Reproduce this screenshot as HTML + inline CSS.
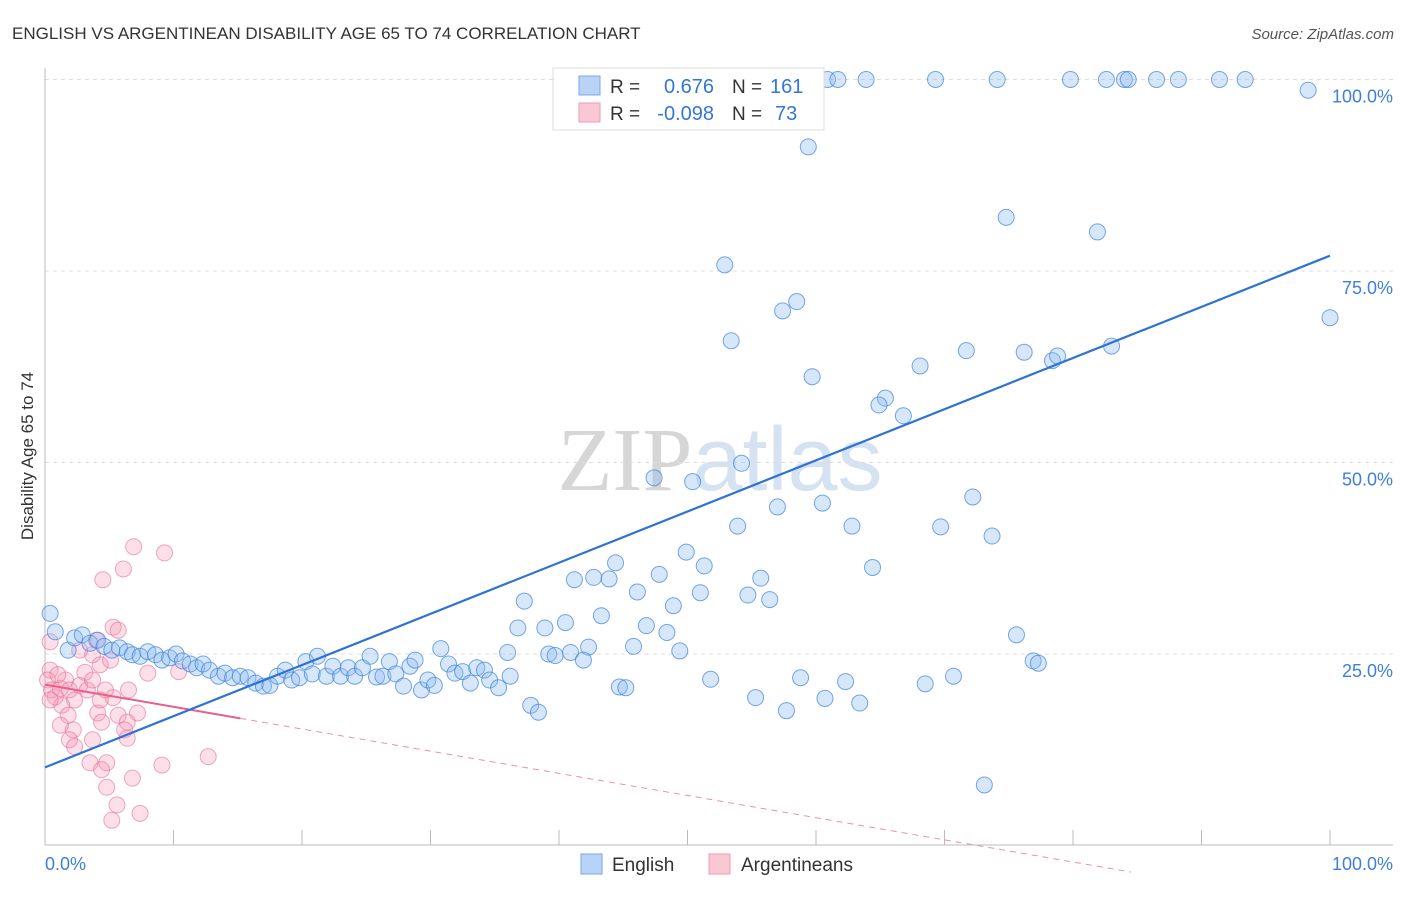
<!DOCTYPE html>
<html><head><meta charset="utf-8"><style>
body{margin:0;background:#fff;font-family:"Liberation Sans",sans-serif;}
svg text{font-family:"Liberation Sans",sans-serif;}
</style></head><body>
<svg id="chart" width="1406" height="892" viewBox="0 0 1406 892">
<text x="12" y="39" font-size="17" fill="#333">ENGLISH VS ARGENTINEAN DISABILITY AGE 65 TO 74 CORRELATION CHART</text>
<text x="1394" y="39" font-size="15" fill="#555" font-style="italic" text-anchor="end">Source: ZipAtlas.com</text>
<text x="720" y="490" font-size="90" fill="#ddd" text-anchor="middle"><tspan font-family="Liberation Serif" fill="#d6d6d6">ZIP</tspan><tspan fill="#d4e2f2">atlas</tspan></text>
<g id="grid"></g>
<g id="axes"></g>
<g id="pts"></g>
<g id="lines"></g>
<text transform="translate(33,456) rotate(-90)" font-size="17" fill="#333" text-anchor="middle">Disability Age 65 to 74</text>
<g>
<rect x="553" y="68" width="271" height="62" fill="#fff" stroke="#ddd"/>
<rect x="579" y="76" width="21" height="19" fill="#b8d3f5" stroke="#7aaae8"/>
<rect x="579" y="103" width="21" height="19" fill="#fac7d5" stroke="#f09ab3"/>
<text x="610" y="93" font-size="19" fill="#333">R = </text><text x="714" y="93" font-size="20" fill="#3377d6" text-anchor="end">0.676</text>
<text x="732" y="93" font-size="19" fill="#333">N = </text><text x="770" y="93" font-size="20" fill="#3377d6">161</text>
<text x="610" y="120" font-size="19" fill="#333">R = </text><text x="714" y="120" font-size="20" fill="#3377d6" text-anchor="end">-0.098</text>
<text x="732" y="120" font-size="19" fill="#333">N = </text><text x="775" y="120" font-size="20" fill="#3377d6">73</text>
</g>
<g>
<rect x="581" y="854" width="21" height="20" fill="#b8d3f5" stroke="#7aaae8"/>
<text x="612" y="871" font-size="19" fill="#333">English</text>
<rect x="709" y="854" width="21" height="20" fill="#fac7d5" stroke="#f09ab3"/>
<text x="741" y="871" font-size="19" fill="#333">Argentineans</text>
</g>
</svg>
<script>
const yTicks=[25,50,75,100];
const xTickLabels=["0.0%","100.0%"];
const englishX=[52.4,60.9,61.7,63.9,69.3,74.1,79.8,82.6,84.0,84.3,86.5,88.2,91.4,93.4,98.3,59.4,74.8,81.9,52.9,58.5,57.4,100,53.4,59.7,68.1,71.7,76.2,78.4,78.8,83.0,65.4,64.9,66.8,54.2,47.4,50.4,60.5,57.0,72.2,53.9,62.8,69.7,73.7,49.9,44.4,51.3,64.4,47.8,41.2,42.7,43.9,55.7,46.1,51.0,54.7,56.4,37.3,48.9,43.3,40.5,36.8,38.9,46.8,48.4,75.6,42.3,45.8,30.8,36.0,39.2,40.9,39.7,49.4,41.9,76.9,77.3,70.7,58.8,51.8,62.3,44.7,45.2,68.5,55.3,60.7,63.4,37.8,57.7,38.4,73.1,
0.4,0.8,1.8,2.3,2.9,3.5,4.1,4.6,5.2,5.8,6.4,6.8,7.4,8.0,8.6,9.1,9.7,10.2,10.7,11.3,11.8,12.3,12.8,13.5,14.0,14.6,15.2,15.8,16.4,17.0,17.5,18.1,18.7,19.2,19.8,20.3,20.8,21.2,21.9,22.4,23.0,23.6,24.1,24.7,25.3,25.8,26.3,26.8,27.3,27.9,28.4,28.8,29.3,29.8,30.3,31.4,31.9,32.5,33.1,33.6,34.2,34.6,35.3,36.2];
const englishY=[100,100,100,100,100,100,100,100,100,100,100,100,100,100,98.6,91.2,82.0,80.1,75.8,71.0,69.8,68.9,65.9,61.2,62.6,64.6,64.4,63.3,63.9,65.2,58.4,57.5,56.1,49.9,48.0,47.5,44.7,44.2,45.5,41.7,41.7,41.6,40.4,38.3,36.9,36.5,36.3,35.4,34.7,35.0,34.8,34.9,33.1,33.0,32.7,32.1,31.9,31.3,30.0,29.1,28.4,28.4,28.7,27.8,27.5,25.9,26.0,25.7,25.2,25.0,25.2,24.8,25.4,24.2,24.1,23.8,22.1,21.9,21.7,21.4,20.7,20.6,21.1,19.3,19.2,18.6,18.3,17.6,17.4,7.9,
30.3,27.9,25.5,27.1,27.5,26.4,26.8,26.0,25.5,25.8,25.3,24.9,24.7,25.3,24.9,24.2,24.5,25.0,24.1,23.7,23.2,23.7,22.9,22.1,22.5,21.9,22.1,21.9,21.2,20.8,20.9,22.1,22.9,21.6,21.9,24.0,22.4,24.7,22.1,23.4,22.1,23.2,22.1,23.2,24.7,22.0,22.1,24.0,22.4,20.8,23.4,24.2,20.3,21.6,20.9,23.7,22.5,22.7,21.2,23.2,22.9,21.6,20.6,22.1];
const argX=[0.4,6.9,6.1,4.5,9.3,5.3,5.7,8.0,10.4,6.5,5.3,4.1,4.4,5.7,7.2,6.4,6.2,6.4,2.2,1.9,3.7,2.3,3.5,4.8,4.4,4.8,6.8,9.1,12.7,5.6,7.4,5.2,0.4,0.2,0.5,0.8,1.2,1.6,1.0,1.9,2.3,1.3,2.7,3.1,3.3,3.7,4.3,3.7,4.0,2.7,1.8,1.2,4.7,4.3,5.1,0.4];
const argY=[26.6,39.0,36.1,34.7,38.2,28.5,28.1,22.5,22.7,20.3,19.3,17.3,16.1,17.0,17.3,16.1,15.1,14.0,15.1,13.8,13.8,12.9,10.8,10.8,9.9,7.6,8.8,10.5,11.6,5.3,4.2,3.3,22.9,21.6,20.3,19.4,20.5,21.6,22.3,20.3,19.0,18.3,20.9,22.6,20.3,21.6,23.6,24.9,26.8,25.5,17.0,15.7,20.3,19.0,24.2,19.0];
const englishTrend=[10.2,77.0];
const argTrend=[21.0,16.6];
const argTrendEnd=15.2, argDashEnd=84.5;
const X0=45,X1=1330,Y0=845.5,Y1=79.5;
const sx=v=>X0+(X1-X0)*v/100, sy=v=>Y0-(Y0-Y1)*v/100;
const NS="http://www.w3.org/2000/svg";
function mk(tag,attrs,parent){const e=document.createElementNS(NS,tag);for(const k in attrs)e.setAttribute(k,attrs[k]);parent.appendChild(e);return e;}
const grid=document.getElementById('grid'),axes=document.getElementById('axes'),pts=document.getElementById('pts'),lines=document.getElementById('lines');
yTicks.forEach(t=>{
 const l=mk('line',{x1:X0,x2:1393,y1:sy(t),y2:sy(t),stroke:'#ddd','stroke-dasharray':'4,4'},grid);
 
 
 const tx=mk('text',{x:1393,y:sy(t)+23,'font-size':18,fill:'#3d7fd9','text-anchor':'end'},grid);
 tx.textContent=t.toFixed(1)+'%';
 
 
});
const ax=mk('line',{x1:X0,x2:X0,y1:68,y2:845,stroke:'#bbb'},axes);


const bx=mk('line',{x1:X0,x2:1393,y1:845,y2:845,stroke:'#bbb'},axes);


for(let i=0;i<=10;i++){const t=mk('line',{x1:sx(i*10),x2:sx(i*10),y1:830,y2:845,stroke:'#bbb'},axes);
 
 }
const xl0=mk('text',{x:45,y:870,'font-size':18,fill:'#3d7fd9'},axes);xl0.textContent=xTickLabels[0];


const xl1=mk('text',{x:1393,y:870,'font-size':18,fill:'#3d7fd9','text-anchor':'end'},axes);xl1.textContent=xTickLabels[1];


argX.forEach((v,i)=>{const c=mk('circle',{cx:sx(v),cy:sy(argY[i]),r:8,fill:'rgba(245,150,180,0.3)',stroke:'rgba(230,110,150,0.6)','stroke-width':1},pts);
 
 });
englishX.forEach((v,i)=>{const c=mk('circle',{cx:sx(v),cy:sy(englishY[i]),r:8,fill:'rgba(140,185,240,0.35)',stroke:'rgba(60,130,220,0.7)','stroke-width':1},pts);
 
 });
const slope=(argTrend[1]-argTrend[0])/argTrendEnd;
const d=mk('line',{x1:sx(argTrendEnd),y1:sy(argTrend[1]),x2:sx(argDashEnd),y2:sy(argTrend[0]+slope*argDashEnd),stroke:'#ee8fab','stroke-width':1,'stroke-dasharray':'6,5'},lines);


const a=mk('line',{x1:sx(0),y1:sy(argTrend[0]),x2:sx(argTrendEnd),y2:sy(argTrend[1]),stroke:'#e8608a','stroke-width':2},lines);


const e=mk('line',{x1:sx(0),y1:sy(englishTrend[0]),x2:sx(100),y2:sy(englishTrend[1]),stroke:'#2f72d6','stroke-width':2.2},lines);


</script>
</body></html>
